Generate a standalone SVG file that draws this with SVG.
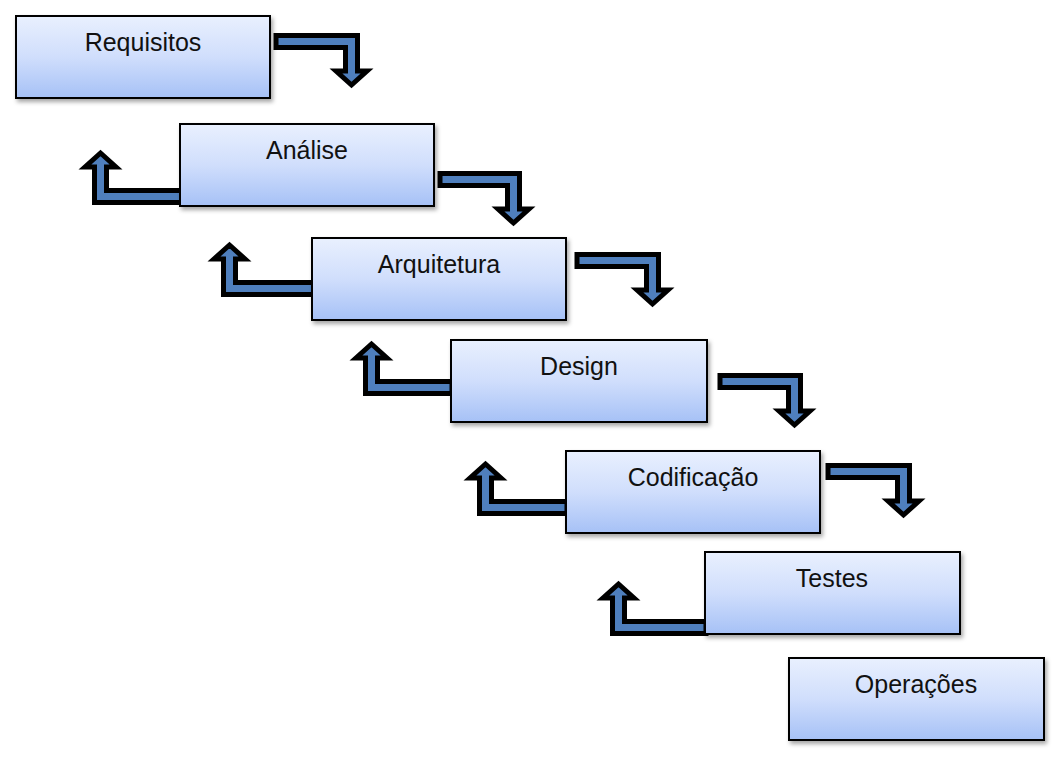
<svg xmlns="http://www.w3.org/2000/svg" width="1060" height="759" viewBox="0 0 1060 759">
<defs>
<linearGradient id="boxg" x1="0" y1="0" x2="0" y2="1">
<stop offset="0" stop-color="#e9f0fe"/>
<stop offset="0.5" stop-color="#d0defc"/>
<stop offset="1" stop-color="#a6c1f6"/>
</linearGradient>
<filter id="sh" x="-5%" y="-5%" width="112%" height="125%">
<feDropShadow dx="2" dy="3" stdDeviation="2" flood-color="#000" flood-opacity="0.35"/>
</filter>
</defs>
<style>
.box{fill:url(#boxg);stroke:#000;stroke-width:2;filter:url(#sh)}
.lbl{font-family:"Liberation Sans",Arial,sans-serif;font-size:25px;fill:#111;text-anchor:middle}
.arr{fill:#4f7fbd;stroke:#000;stroke-width:5;stroke-linejoin:miter;stroke-miterlimit:10}
</style>
<rect width="1060" height="759" fill="#fff"/>
<g id="connectors">
<path class="arr" d="M276,35.5 H357.5 V71 H367 L351.5,85 L336,71 H345.5 V47.5 H276 Z"/>
<path class="arr" d="M440,173.5 H519.5 V209 H529 L513.5,223 L498,209 H507.5 V185.5 H440 Z"/>
<path class="arr" d="M577,254.5 H658.5 V290 H668 L652.5,304 L637,290 H646.5 V266.5 H577 Z"/>
<path class="arr" d="M720,375.5 H800.5 V411 H810 L794.5,425 L779,411 H788.5 V387.5 H720 Z"/>
<path class="arr" d="M828,465.5 H909.5 V501 H919 L903.5,515 L888,501 H897.5 V477.5 H828 Z"/>
<path class="arr" d="M182,202.5 H94.5 V167 H85 L100.5,153 L116,167 H106.5 V190.5 H182 Z"/>
<path class="arr" d="M314,294.5 H223.5 V259 H214 L229.5,245 L245,259 H235.5 V282.5 H314 Z"/>
<path class="arr" d="M452,393.5 H365.5 V358 H356 L371.5,344 L387,358 H377.5 V381.5 H452 Z"/>
<path class="arr" d="M567,513.5 H479.5 V478 H470 L485.5,464 L501,478 H491.5 V501.5 H567 Z"/>
<path class="arr" d="M706,633.5 H612.5 V598 H603 L618.5,584 L634,598 H624.5 V621.5 H706 Z"/>
</g>
<g id="requisitos"><rect class="box" x="16" y="16" width="254" height="82"/><text class="lbl" x="143" y="51">Requisitos</text></g>
<g id="analise"><rect class="box" x="180" y="124" width="254" height="82"/><text class="lbl" x="307" y="159">Análise</text></g>
<g id="arquitetura"><rect class="box" x="312" y="238" width="254" height="82"/><text class="lbl" x="439" y="273">Arquitetura</text></g>
<g id="design"><rect class="box" x="451" y="340" width="256" height="82"/><text class="lbl" x="579" y="375">Design</text></g>
<g id="codificacao"><rect class="box" x="566" y="451" width="254" height="82"/><text class="lbl" x="693" y="486">Codificação</text></g>
<g id="testes"><rect class="box" x="705" y="552" width="255" height="82"/><text class="lbl" x="832" y="587">Testes</text></g>
<g id="operacoes"><rect class="box" x="789" y="658" width="255" height="82"/><text class="lbl" x="916" y="693">Operações</text></g>
</svg>
